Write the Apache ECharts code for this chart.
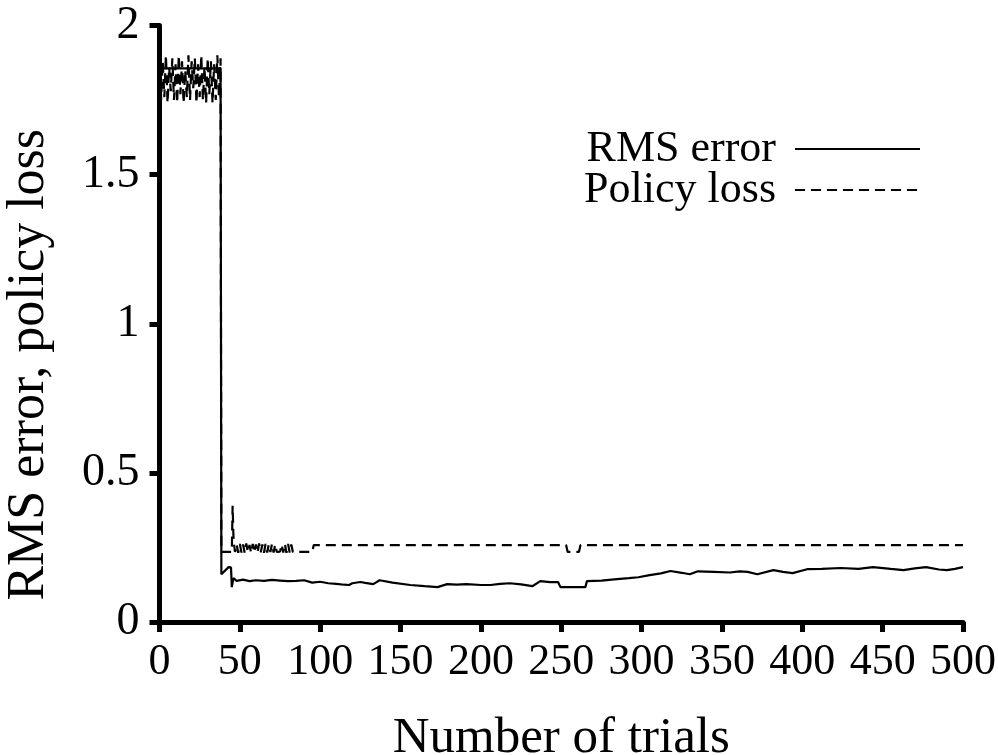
<!DOCTYPE html>
<html>
<head>
<meta charset="utf-8">
<script src="https://cdn.jsdelivr.net/npm/echarts@6/dist/echarts.min.js"></script>
<style>html,body{margin:0;padding:0;background:#fff}#c{width:998px;height:755px}</style>
</head>
<body>
<div id="c"></div>
<script>
// [trial, value]
const rmsError = [
  [0,1.72],[1,1.856],[38,1.856],[38.5,0.16],[39,0.162],[43,0.184],[44.5,0.183],[45,0.117],[46,0.147],
  [48,0.138],[52,0.142],[56,0.137],[60,0.14],[65,0.138],[70,0.141],[75,0.139],[80,0.137],[85,0.138],
  [90,0.14],[95,0.132],[100,0.135],[105,0.13],[110,0.128],[115,0.125],[118,0.124],[120,0.13],[125,0.134],
  [128,0.131],[133,0.127],[137,0.14],[145,0.132],[156,0.124],[165,0.12],[173,0.117],[179,0.127],[185,0.125],
  [191,0.127],[200,0.124],[206,0.124],[212,0.128],[218,0.13],[225,0.126],[232,0.12],[237,0.137],[243,0.134],
  [248,0.134],[249.5,0.117],[265,0.117],[266,0.137],[275,0.139],[283,0.143],[292,0.147],[298,0.15],[305,0.157],
  [312,0.163],[318,0.171],[325,0.165],[330,0.16],[335,0.17],[345,0.168],[355,0.166],[361,0.17],[366,0.168],
  [372,0.16],[382,0.174],[388,0.168],[394,0.164],[403,0.177],[412,0.178],[424,0.181],[435,0.178],[444,0.184],
  [455,0.178],[463,0.174],[470,0.18],[477,0.184],[485,0.176],[490,0.174],[495,0.178],[500,0.184]
];
const policyLoss = [
  [0,1.99],[1,1.75],[2,1.88],[3,1.76],[4,1.9],[5,1.74],[6,1.86],[7,1.78],[8,1.89],[9,1.75],[10,1.87],
  [11,1.74],[12,1.9],[13,1.77],[14,1.88],[15,1.74],[16,1.85],[17,1.76],[18,1.9],[19,1.75],[20,1.88],
  [21,1.79],[22,1.89],[23,1.74],[24,1.87],[25,1.76],[26,1.9],[27,1.75],[28,1.86],[29,1.74],[30,1.89],
  [31,1.77],[32,1.88],[33,1.74],[34,1.87],[35,1.75],[36,1.9],[37,1.76],[38,1.89],
  [38.5,0.235],[45,0.235],[45.5,0.39],[46,0.29],[46.5,0.255],[47,0.235],
  [48,0.26],[49,0.232],[50,0.262],[51,0.233],[52,0.26],[53,0.232],[54,0.263],[55,0.234],[56,0.258],
  [57,0.232],[58,0.262],[59,0.233],[60,0.26],[61,0.232],[62,0.263],[63,0.234],[64,0.26],[65,0.232],
  [66,0.262],[67,0.233],[68,0.26],[69,0.235],[70,0.262],[71,0.233],[72,0.26],[73,0.235],[74,0.236],
  [75,0.236],[76,0.26],[77,0.233],[78,0.262],[79,0.232],[80,0.262],[81,0.233],[82,0.26],[83,0.235],
  [95,0.235],[96,0.258],[253,0.258],[254,0.235],[261,0.235],[262,0.258],[500,0.258]
];
const seriesNames = ['RMS error','Policy loss'];
const xTicks = [0,50,100,150,200,250,300,350,400,450,500];
const yTicks = [0,0.5,1,1.5,2];

const FONT = '"Liberation Serif", "Times New Roman", serif';
const chart = echarts.init(document.getElementById('c'), null, {renderer:'canvas'});
chart.setOption({
  animation:false,
  backgroundColor:'#fff',
  grid:{left:159.5, right:35, top:25.5, bottom:133, containLabel:false, outerBoundsMode:'none'},
  legend:{
    orient:'vertical', right:72, top:122, align:'right',
    itemWidth:125, itemHeight:14, itemGap:-3,
    itemStyle:{opacity:0},
    textStyle:{fontFamily:FONT, fontSize:44, lineHeight:40, color:'#000', padding:[0,14,0,0]},
    data:seriesNames
  },
  xAxis:{
    type:'value', min:xTicks[0], max:xTicks[xTicks.length-1], interval:xTicks[1]-xTicks[0],
    name:'Number of trials', nameLocation:'middle', nameGap:91,
    nameTextStyle:{fontFamily:FONT, fontSize:51, color:'#000'},
    axisLine:{lineStyle:{color:'#000', width:5}},
    axisTick:{show:true, length:10, lineStyle:{color:'#000', width:5}},
    axisLabel:{fontFamily:FONT, fontSize:44, color:'#000', margin:18},
    splitLine:{show:false}
  },
  yAxis:{
    type:'value', min:yTicks[0], max:yTicks[yTicks.length-1], interval:yTicks[1]-yTicks[0],
    name:'RMS error, policy loss', nameLocation:'middle', nameGap:104,
    nameTextStyle:{fontFamily:FONT, fontSize:52, color:'#000', padding:[0,82,0,0]},
    axisLine:{show:true, lineStyle:{color:'#000', width:5}},
    axisTick:{show:true, length:10, lineStyle:{color:'#000', width:5}},
    axisLabel:{fontFamily:FONT, fontSize:46, color:'#000', margin:20,
      formatter: v => String(v)},
    splitLine:{show:false}
  },
  series:[
    {name:seriesNames[0], type:'line', data:rmsError, symbol:'none', showSymbol:false,
     lineStyle:{color:'#000', width:2.2}, itemStyle:{color:'#000'}},
    {name:seriesNames[1], type:'line', data:policyLoss, symbol:'none', showSymbol:false,
     lineStyle:{color:'#000', width:2.2, type:[10,6]}, itemStyle:{color:'#000'}}
  ]
});
</script>
</body>
</html>
